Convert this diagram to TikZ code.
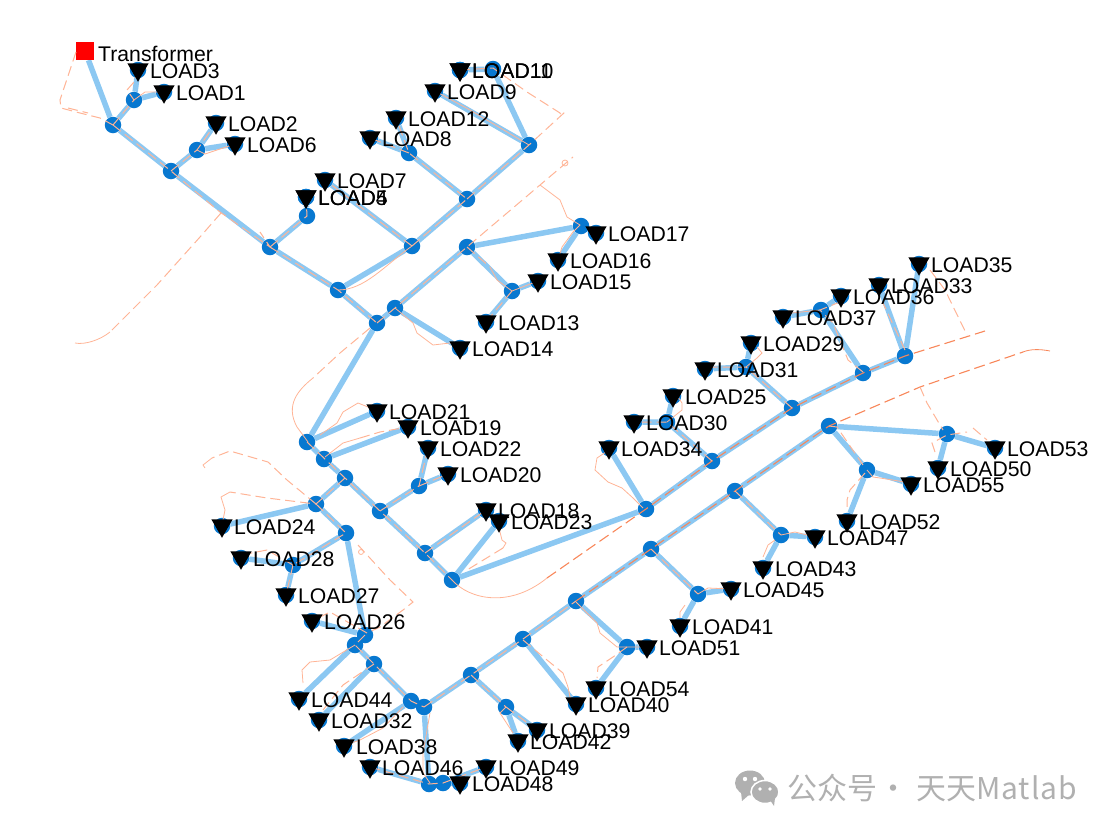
\documentclass[tikz,border=0pt]{standalone}
\usepackage{fontspec}
\setmainfont{Liberation Sans}
\newfontfamily\cjkfont{Noto Sans CJK SC}
\usetikzlibrary{shapes.geometric}
\definecolor{feederblue}{RGB}{140,200,242}
\definecolor{busblue}{RGB}{8,120,208}
\definecolor{roadpale}{RGB}{255,180,150}
\definecolor{roaddark}{RGB}{248,135,90}
\definecolor{markgray}{RGB}{176,176,176}
\pgfdeclarelayer{feederlayer}
\pgfdeclarelayer{marklayer}
\pgfsetlayers{feederlayer,main,marklayer}
\tikzset{
  bus/.style={circle,fill=busblue,minimum size=16.5pt,inner sep=0pt},
  loadtri/.style={regular polygon,regular polygon sides=3,shape border rotate=180,fill=black,minimum size=24.5pt,inner sep=0pt},
  loadtext/.style={anchor=west,inner sep=0pt,font=\fontsize{21.2}{22}\selectfont},
  feeder/.style={feederblue,line width=5.5pt},
  pale/.style={roadpale,line width=1pt,dash pattern=on 10pt off 5pt},
  curb/.style={roadpale,line width=0.8pt},
  dark/.style={roaddark,line width=1.1pt,dash pattern=on 11pt off 5pt},
}
\newcommand{\loadnode}[3]{%
  \node[bus] (#1) at (#2) {};
  \begin{pgfonlayer}{marklayer}
    \node[loadtri,yshift=0.5pt] (#1tri) at (#1) {};
    \node[loadtext,xshift=12pt,yshift=-1pt] (#1txt) at (#1) {#3};
  \end{pgfonlayer}
}
\begin{document}
\begin{tikzpicture}[x=1pt,y=-1pt]
  \useasboundingbox (0,0) rectangle (1114,833);
  % buses
  \node[bus] (bus1) at (113,125) {};
  \node[bus] (bus2) at (134,100) {};
  \node[bus] (bus3) at (171,171) {};
  \node[bus] (bus4) at (197,150) {};
  \node[bus] (bus5) at (270,247) {};
  \node[bus] (bus6) at (307,216) {};
  \node[bus] (bus7) at (338,290) {};
  \node[bus] (bus8) at (412,246) {};
  \node[bus] (bus9) at (467,199) {};
  \node[bus] (bus10) at (529,145) {};
  \node[bus] (bus11) at (409,153) {};
  \node[bus] (bus12) at (493,69) {};
  \node[bus] (bus13) at (377,323) {};
  \node[bus] (bus14) at (395,308) {};
  \node[bus] (bus15) at (467,247) {};
  \node[bus] (bus16) at (581,226) {};
  \node[bus] (bus17) at (512,291) {};
  \node[bus] (bus18) at (307,442) {};
  \node[bus] (bus19) at (324,459) {};
  \node[bus] (bus20) at (345,478) {};
  \node[bus] (bus21) at (380,511) {};
  \node[bus] (bus22) at (419,486) {};
  \node[bus] (bus23) at (425,553) {};
  \node[bus] (bus24) at (452,580) {};
  \node[bus] (bus25) at (646,509) {};
  \node[bus] (bus26) at (316,504) {};
  \node[bus] (bus27) at (346,533) {};
  \node[bus] (bus28) at (293,565) {};
  \node[bus] (bus29) at (365,635) {};
  \node[bus] (bus30) at (355,645) {};
  \node[bus] (bus31) at (374,664) {};
  \node[bus] (bus32) at (411,701) {};
  \node[bus] (bus33) at (424,707) {};
  \node[bus] (bus34) at (429,784) {};
  \node[bus] (bus35) at (443,783) {};
  \node[bus] (bus36) at (471,675) {};
  \node[bus] (bus37) at (506,707) {};
  \node[bus] (bus38) at (523,639) {};
  \node[bus] (bus39) at (576,601) {};
  \node[bus] (bus40) at (627,647) {};
  \node[bus] (bus41) at (651,549) {};
  \node[bus] (bus42) at (698,594) {};
  \node[bus] (bus43) at (735,491) {};
  \node[bus] (bus44) at (781,535) {};
  \node[bus] (bus45) at (829,426) {};
  \node[bus] (bus46) at (867,470) {};
  \node[bus] (bus47) at (947,434) {};
  \node[bus] (bus48) at (712,461) {};
  \node[bus] (bus49) at (667,422) {};
  \node[bus] (bus50) at (792,408) {};
  \node[bus] (bus51) at (746,367) {};
  \node[bus] (bus52) at (863,373) {};
  \node[bus] (bus53) at (821,310) {};
  \node[bus] (bus54) at (905,356) {};
  % loads
  \loadnode{load1}{164,92}{LOAD1}
  \loadnode{load2}{216,123}{LOAD2}
  \loadnode{load3}{138,70}{LOAD3}
  \loadnode{load4}{306,197}{LOAD4}
  \loadnode{load5}{306,197}{LOAD5}
  \loadnode{load6}{235,144}{LOAD6}
  \loadnode{load7}{325,180}{LOAD7}
  \loadnode{load8}{370,138}{LOAD8}
  \loadnode{load9}{435,91}{LOAD9}
  \loadnode{load11}{460,70}{LOAD11}
  \loadnode{load10}{460,70}{LOAD10}
  \loadnode{load12}{396,118}{LOAD12}
  \loadnode{load13}{486,322}{LOAD13}
  \loadnode{load14}{460,348}{LOAD14}
  \loadnode{load15}{538,281}{LOAD15}
  \loadnode{load16}{558,260}{LOAD16}
  \loadnode{load17}{596,233}{LOAD17}
  \loadnode{load18}{486,510}{LOAD18}
  \loadnode{load19}{408,427}{LOAD19}
  \loadnode{load20}{448,474}{LOAD20}
  \loadnode{load21}{377,411}{LOAD21}
  \loadnode{load22}{428,448}{LOAD22}
  \loadnode{load23}{499,521}{LOAD23}
  \loadnode{load24}{222,526}{LOAD24}
  \loadnode{load25}{673,396}{LOAD25}
  \loadnode{load26}{312,621}{LOAD26}
  \loadnode{load27}{286,595}{LOAD27}
  \loadnode{load28}{241,558}{LOAD28}
  \loadnode{load29}{751,343}{LOAD29}
  \loadnode{load30}{634,422}{LOAD30}
  \loadnode{load31}{705,369}{LOAD31}
  \loadnode{load32}{319,720}{LOAD32}
  \loadnode{load33}{879,285}{LOAD33}
  \loadnode{load34}{609,448}{LOAD34}
  \loadnode{load35}{919,264}{LOAD35}
  \loadnode{load36}{841,296}{LOAD36}
  \loadnode{load37}{783,317}{LOAD37}
  \loadnode{load38}{344,746}{LOAD38}
  \loadnode{load39}{537,730}{LOAD39}
  \loadnode{load40}{576,704}{LOAD40}
  \loadnode{load41}{680,626}{LOAD41}
  \loadnode{load42}{518,741}{LOAD42}
  \loadnode{load43}{763,568}{LOAD43}
  \loadnode{load44}{299,699}{LOAD44}
  \loadnode{load45}{731,589}{LOAD45}
  \loadnode{load46}{370,767}{LOAD46}
  \loadnode{load47}{815,537}{LOAD47}
  \loadnode{load48}{460,783}{LOAD48}
  \loadnode{load49}{486,767}{LOAD49}
  \loadnode{load50}{938,468}{LOAD50}
  \loadnode{load51}{647,647}{LOAD51}
  \loadnode{load52}{847,521}{LOAD52}
  \loadnode{load53}{995,448}{LOAD53}
  \loadnode{load54}{596,688}{LOAD54}
  \loadnode{load55}{911,484}{LOAD55}
  % transformer
  \node[fill=red,minimum size=18pt,inner sep=0pt] (trafo) at (85,51) {};
  \node[loadtext] (trafotxt) at (98,54) {Transformer};
  % feeders
  \begin{pgfonlayer}{feederlayer}
    \draw[feeder] (trafo) -- (bus1) -- (bus2) -- (load3);
    \draw[feeder] (bus2) -- (load1);
    \draw[feeder] (bus1) -- (bus3) -- (bus4) -- (load2);
    \draw[feeder] (bus4) -- (load6);
    \draw[feeder] (bus3) -- (bus5) -- (bus6) -- (load4);
    \draw[feeder] (bus5) -- (bus7) -- (bus8) -- (load7);
    \draw[feeder] (bus8) -- (bus9) -- (bus11) -- (load12);
    \draw[feeder] (bus11) -- (load8);
    \draw[feeder] (bus9) -- (bus10) -- (load9);
    \draw[feeder] (bus10) -- (bus12) -- (load10);
    \draw[feeder] (bus7) -- (bus13) -- (bus14) -- (bus15) -- (bus16) -- (load17);
    \draw[feeder] (bus16) -- (load16);
    \draw[feeder] (bus15) -- (bus17) -- (load15);
    \draw[feeder] (bus17) -- (load13);
    \draw[feeder] (bus14) -- (load14);
    \draw[feeder] (bus13) -- (bus18) -- (load21);
    \draw[feeder] (bus18) -- (bus19) -- (load19);
    \draw[feeder] (bus19) -- (bus20) -- (bus21) -- (bus22) -- (load22);
    \draw[feeder] (bus22) -- (load20);
    \draw[feeder] (bus21) -- (bus23) -- (load18);
    \draw[feeder] (bus23) -- (bus24) -- (load23);
    \draw[feeder] (bus24) -- (bus25) -- (load34);
    \draw[feeder] (bus20) -- (bus26) -- (load24);
    \draw[feeder] (bus26) -- (bus27) -- (bus28) -- (load28);
    \draw[feeder] (bus28) -- (load27);
    \draw[feeder] (bus27) -- (bus29) -- (load26);
    \draw[feeder] (bus29) -- (bus30) -- (load44);
    \draw[feeder] (bus30) -- (bus31) -- (load32);
    \draw[feeder] (bus31) -- (bus32) -- (load38);
    \draw[feeder] (bus32) -- (bus33) -- (bus34) -- (load46);
    \draw[feeder] (bus34) -- (bus35) -- (load49);
    \draw[feeder] (bus35) -- (load48);
    \draw[feeder] (bus33) -- (bus36) -- (bus37) -- (load39);
    \draw[feeder] (bus37) -- (load42);
    \draw[feeder] (bus36) -- (bus38) -- (load40);
    \draw[feeder] (bus38) -- (bus39) -- (bus40) -- (load51);
    \draw[feeder] (bus40) -- (load54);
    \draw[feeder] (bus39) -- (bus41) -- (bus42) -- (load45);
    \draw[feeder] (bus42) -- (load41);
    \draw[feeder] (bus41) -- (bus43) -- (bus44) -- (load47);
    \draw[feeder] (bus44) -- (load43);
    \draw[feeder] (bus43) -- (bus45) -- (bus46) -- (load55);
    \draw[feeder] (bus46) -- (load52);
    \draw[feeder] (bus45) -- (bus47) -- (load53);
    \draw[feeder] (bus47) -- (load50);
    \draw[feeder] (bus25) -- (bus48) -- (bus49) -- (load30);
    \draw[feeder] (bus49) -- (load25);
    \draw[feeder] (bus48) -- (bus50) -- (bus51) -- (load31);
    \draw[feeder] (bus51) -- (load29);
    \draw[feeder] (bus50) -- (bus52) -- (bus53) -- (load37);
    \draw[feeder] (bus53) -- (load36);
    \draw[feeder] (bus52) -- (bus54) -- (load33);
    \draw[feeder] (bus54) -- (load35);
  \end{pgfonlayer}
  % road lines
  \draw[pale] (76,52) -- (60,100) -- (61,108) -- (80,113) -- (100,118) -- (113,125);
  \draw[pale] (68,108) -- (88,113);
  \draw[pale] (113,125) -- (134,100) -- (127,90) -- (134,82) -- (138,70);
  \draw[curb] (134,100) -- (145,92) -- (164,92);
  \draw[pale] (113,125) -- (171,171) -- (208,202) -- (220,212) -- (270,247) -- (260,232);
  \draw[pale] (171,171) -- (197,150) -- (216,123);
  \draw[curb] (197,150) -- (205,154) -- (235,144);
  \draw[pale] (221,213) -- (200,237) -- (157,285) -- (110,332);
  \draw[curb] (110,332) .. controls (100,340) and (85,345) .. (75,343);
  \draw[pale] (270,247) -- (307,216) -- (306,197);
  \draw[pale] (270,247) -- (338,290) -- (377,323);
  \draw[curb] (338,290) .. controls (365,290) and (385,265) .. (412,246);
  \draw[pale] (412,246) -- (325,180);
  \draw[pale] (412,246) -- (467,199) -- (409,153) -- (396,118);
  \draw[pale] (409,153) -- (370,138);
  \draw[pale] (467,199) -- (529,145) -- (565,112);
  \draw[curb] (435,91) -- (470,110) -- (529,145);
  \draw[pale] (460,70) -- (493,68) -- (527,92) -- (560,113) -- (563,118);
  \draw[pale] (377,323) -- (395,308) -- (467,247) -- (573,157);
  \draw[curb] (565,163) circle[radius=3];
  \draw[curb] (540,185) -- (560,200) -- (567,217) -- (580,225) -- (573,232) -- (562,247) -- (558,260);
  \draw[pale] (467,247) -- (490,267);
  \draw[curb] (490,267) -- (497,280) -- (512,291) -- (538,281);
  \draw[pale] (512,291) -- (486,322);
  \draw[curb] (395,308) -- (413,323) -- (417,333) -- (433,345) -- (450,343) -- (460,345);
  \draw[pale] (370,328) -- (340,353) -- (313,378);
  \draw[curb] (313,378) .. controls (298,390) and (285,405) .. (297,427) -- (308,442);
  \draw[curb] (320,435) -- (337,423) -- (343,412) -- (358,403) -- (368,407) -- (377,410);
  \draw[curb] (325,457) -- (343,443) -- (360,438);
  \draw[pale] (360,438) -- (380,432) -- (408,427);
  \draw[pale] (307,442) -- (345,478) -- (380,511) -- (425,553) -- (452,580);
  \draw[pale] (380,511) -- (419,486) -- (428,448);
  \draw[pale] (419,486) -- (448,474);
  \draw[pale] (425,553) -- (486,510);
  \draw[curb] (499,528) -- (502,540) -- (506,543) -- (503,548);
  \draw[pale] (503,548) -- (467,570);
  \draw[curb] (452,580) .. controls (470,600) and (510,608) .. (547,578);
  \draw[dark] (547,578) -- (646,509) -- (712,461) -- (792,408) -- (863,373) -- (905,356) -- (985,331);
  \draw[pale] (930,270) -- (945,290) -- (967,335);
  \draw[pale] (345,478) -- (316,504) -- (267,498) -- (230,492);
  \draw[curb] (230,492) -- (221,497) -- (225,510) -- (223,520);
  \draw[pale] (316,504) -- (287,480) -- (268,462) -- (230,451) -- (212,458);
  \draw[curb] (212,458) -- (203,465) -- (205,468);
  \draw[pale] (316,504) -- (346,533) -- (323,547) -- (293,565);
  \draw[pale] (293,565) -- (267,550) -- (241,555);
  \draw[pale] (293,565) -- (286,595);
  \draw[pale] (358,545) -- (390,580) -- (413,602) -- (403,610) -- (380,627) -- (367,633);
  \draw[curb] (361,552) circle[radius=2.5];
  \draw[pale] (367,633) -- (330,612) -- (312,621);
  \draw[pale] (365,635) -- (355,645) -- (374,664) -- (411,701) -- (424,707);
  \draw[curb] (355,645) -- (330,660) -- (310,662) -- (302,670) -- (303,683);
  \draw[pale] (374,664) -- (343,685) -- (323,710);
  \draw[curb] (403,707) -- (383,728) -- (360,740) -- (345,745);
  \draw[curb] (430,713) -- (423,753) -- (423,773) -- (430,783);
  \draw[pale] (370,767) -- (429,784) -- (443,783) -- (486,767);
  \draw[pale] (424,707) -- (471,675) -- (523,639) -- (576,601);
  \draw[dark] (576,601) -- (651,549) -- (735,491) -- (829,426) -- (920,387) -- (1023,352);
  \draw[curb,roaddark] (1023,352) .. controls (1030,349) and (1040,349) .. (1050,351);
  \draw[pale] (920,387) -- (927,403) -- (943,430);
  \draw[pale] (935,452) -- (932,443) -- (947,435) -- (967,432);
  \draw[pale] (973,428) -- (987,440);
  \draw[pale] (829,426) -- (837,427) -- (863,465);
  \draw[curb] (867,470) -- (873,477) -- (880,478) -- (911,483);
  \draw[pale] (865,473) -- (850,490) -- (847,500) -- (847,508);
  \draw[pale] (471,675) -- (506,707);
  \draw[curb] (506,707) -- (500,713) -- (513,733);
  \draw[pale] (506,707) -- (537,730);
  \draw[pale] (523,640) -- (547,660) -- (563,673);
  \draw[curb] (563,673) -- (568,687) -- (570,697) -- (576,704);
  \draw[curb] (576,602) -- (597,623) -- (600,633) -- (617,647) -- (647,647);
  \draw[pale] (627,647) -- (613,657) -- (598,667) -- (597,678);
  \draw[pale] (651,549) -- (698,594);
  \draw[curb] (698,594) -- (708,588) -- (731,589);
  \draw[curb] (685,605) -- (680,612) -- (680,618);
  \draw[pale] (735,491) -- (781,535);
  \draw[curb] (781,535) -- (795,532) -- (815,537);
  \draw[curb] (775,540) -- (768,545) -- (763,557);
  \draw[curb] (609,450) -- (597,458) -- (595,470) -- (608,482) -- (622,488) -- (633,498) -- (643,508);
  \draw[pale] (712,461) -- (667,422) -- (634,422);
  \draw[curb] (667,422) -- (682,410) -- (682,403) -- (678,397);
  \draw[pale] (792,408) -- (746,367) -- (705,367);
  \draw[curb] (746,367) -- (757,358) -- (762,353) -- (757,347);
  \draw[pale] (863,372) -- (848,360) -- (833,323) -- (820,310) -- (840,302);
  \draw[curb] (820,310) -- (783,314);
  \draw[pale] (905,350) -- (883,303);
  % watermark
  \fill[markgray] (750,783) ellipse[x radius=15,y radius=12.5];
  \fill[markgray] (741,792) -- (742,801) -- (750,794) -- cycle;
  \fill[white] (745,779) circle[radius=2.2];
  \fill[white] (755,779) circle[radius=2.2];
  \draw[white,line width=1.5pt,fill=markgray] (765,792) ellipse[x radius=14,y radius=11.5];
  \fill[markgray] (770,800) -- (774,806) -- (775,798) -- cycle;
  \fill[white] (760,789) circle[radius=1.8];
  \fill[white] (770,789) circle[radius=1.8];
  \node[anchor=west,inner sep=0pt,text=markgray,font=\cjkfont\fontsize{30}{30}\selectfont] (wmark) at (787,788) {公众号\hspace{1pt}·\hspace{8pt}天天{\addfontfeature{LetterSpace=3.3}Matlab}};
\end{tikzpicture}
\end{document}
